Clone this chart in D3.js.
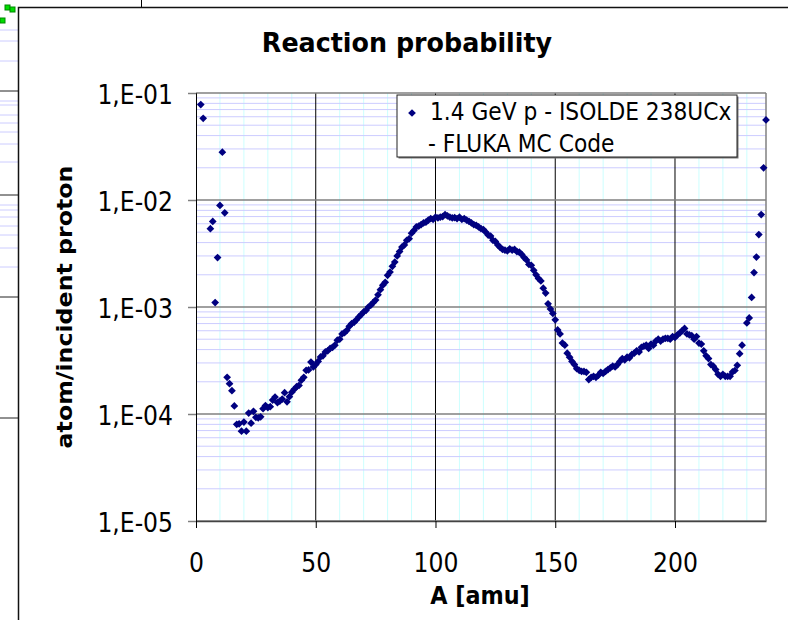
<!DOCTYPE html>
<html>
<head>
<meta charset="utf-8">
<script src="https://cdn.jsdelivr.net/npm/d3@7/dist/d3.min.js"></script>
<style>
  body { margin: 0; background: #ffffff; }
  text { font-family: "DejaVu Sans", sans-serif; fill: #000; }
</style>
</head>
<body>
<div id="wrapper"></div>
<script>
// mass number A of each point
const massNumbers = [
  2, 3, 6, 7, 8, 9, 10, 11, 12, 13, 14, 15, 16, 17, 18, 19, 20, 21, 22, 23,
  24, 25, 26, 27, 28, 29, 30, 31, 32, 33, 34, 35, 36, 37, 38, 39, 40, 41, 42, 43,
  44, 45, 46, 47, 48, 49, 50, 51, 52, 53, 54, 55, 56, 57, 58, 59, 60, 61, 62, 63,
  64, 65, 66, 67, 68, 69, 70, 71, 72, 73, 74, 75, 76, 77, 78, 79, 80, 81, 82, 83,
  84, 85, 86, 87, 88, 89, 90, 91, 92, 93, 94, 95, 96, 97, 98, 99, 100, 101, 102, 103,
  104, 105, 106, 107, 108, 109, 110, 111, 112, 113, 114, 115, 116, 117, 118, 119, 120, 121, 122, 123,
  124, 125, 126, 127, 128, 129, 130, 131, 132, 133, 134, 135, 136, 137, 138, 139, 140, 141, 142, 143,
  144, 145, 146, 147, 148, 149, 150, 151, 152, 153, 154, 155, 156, 157, 158, 159, 160, 161, 162, 163,
  164, 165, 166, 167, 168, 169, 170, 171, 172, 173, 174, 175, 176, 177, 178, 179, 180, 181, 182, 183,
  184, 185, 186, 187, 188, 189, 190, 191, 192, 193, 194, 195, 196, 197, 198, 199, 200, 201, 202, 203,
  204, 205, 206, 207, 208, 209, 210, 211, 212, 213, 214, 215, 216, 217, 218, 219, 220, 221, 222, 223,
  224, 225, 226, 227, 228, 230, 231, 232, 233, 234, 235, 236, 237, 238
]

// atoms per incident proton
const probabilities = [
  0.078, 0.058, 0.0054, 0.0063, 0.0011, 0.0029, 0.0089, 0.028, 0.0076, 2.2e-4,
  1.92e-4, 1.65e-4, 1.19e-4, 8.0e-5, 8.1e-5, 6.9e-5, 8.4e-5, 6.9e-5, 1.02e-4, 8.2e-5,
  1.06e-4, 9.3e-5, 9.2e-5, 9.4e-5, 1.12e-4, 1.2e-4, 1.15e-4, 1.17e-4, 1.35e-4, 1.44e-4,
  1.28e-4, 1.32e-4, 1.38e-4, 1.58e-4, 1.3e-4, 1.45e-4, 1.6e-4, 1.7e-4, 1.8e-4, 1.85e-4,
  2.07e-4, 2.2e-4, 2.56e-4, 2.58e-4, 3.06e-4, 2.75e-4, 2.9e-4, 3.1e-4, 3.41e-4, 3.5e-4,
  3.8e-4, 3.9e-4, 4.1e-4, 4.2e-4, 4.4e-4, 4.9e-4, 5.0e-4, 5.6e-4, 5.75e-4, 6.05e-4,
  6.6e-4, 7.0e-4, 7.2e-4, 7.6e-4, 8.07e-4, 8.5e-4, 9.0e-4, 9.3e-4, 1.0e-3, 1.04e-3,
  1.1e-3, 1.16e-3, 1.3e-3, 1.45e-3, 1.6e-3, 1.7e-3, 1.98e-3, 2.12e-3, 2.4e-3, 2.63e-3,
  3.0e-3, 3.3e-3, 3.63e-3, 3.8e-3, 4.2e-3, 4.35e-3, 4.9e-3, 5.2e-3, 5.6e-3, 5.7e-3,
  5.9e-3, 6.1e-3, 6.2e-3, 6.5e-3, 6.7e-3, 6.6e-3, 6.9e-3, 6.8e-3, 6.9e-3, 7.0e-3,
  7.3e-3, 7.1e-3, 6.9e-3, 6.8e-3, 6.85e-3, 6.7e-3, 6.9e-3, 6.6e-3, 6.7e-3, 6.5e-3,
  6.3e-3, 6.1e-3, 5.9e-3, 5.8e-3, 5.6e-3, 5.4e-3, 5.3e-3, 5.0e-3, 4.7e-3, 4.6e-3,
  4.2e-3, 4.1e-3, 3.8e-3, 3.6e-3, 3.45e-3, 3.4e-3, 3.35e-3, 3.5e-3, 3.4e-3, 3.45e-3,
  3.3e-3, 3.25e-3, 3.1e-3, 2.9e-3, 2.75e-3, 2.5e-3, 2.45e-3, 2.2e-3, 2.0e-3, 1.85e-3,
  1.75e-3, 1.5e-3, 1.35e-3, 1.07e-3, 9.6e-4, 8.7e-4, 7.6e-4, 6.1e-4, 5.6e-4, 4.6e-4,
  4.4e-4, 3.7e-4, 3.4e-4, 3.1e-4, 2.9e-4, 2.65e-4, 2.56e-4, 2.5e-4, 2.5e-4, 2.45e-4,
  2.1e-4, 2.2e-4, 2.25e-4, 2.2e-4, 2.3e-4, 2.45e-4, 2.4e-4, 2.5e-4, 2.6e-4, 2.7e-4,
  2.8e-4, 2.75e-4, 2.9e-4, 3.1e-4, 3.3e-4, 3.2e-4, 3.4e-4, 3.35e-4, 3.6e-4, 3.7e-4,
  3.9e-4, 3.8e-4, 4.2e-4, 4.3e-4, 4.4e-4, 4.1e-4, 4.5e-4, 4.4e-4, 4.8e-4, 5.0e-4,
  4.8e-4, 5.0e-4, 5.1e-4, 5.1e-4, 5.0e-4, 5.3e-4, 5.2e-4, 5.5e-4, 5.7e-4, 6.0e-4,
  6.3e-4, 5.6e-4, 5.5e-4, 5.4e-4, 5.0e-4, 5.3e-4, 4.6e-4, 4.5e-4, 3.9e-4, 3.5e-4,
  3.3e-4, 2.9e-4, 2.8e-4, 2.6e-4, 2.35e-4, 2.25e-4, 2.35e-4, 2.25e-4, 2.25e-4, 2.25e-4,
  2.47e-4, 2.55e-4, 2.85e-4, 3.66e-4, 4.4e-4, 7.1e-4, 7.9e-4, 1.23e-3, 2.1e-3, 2.93e-3,
  4.75e-3, 7.3e-3, 0.020, 0.056
]

const xTickValues = [0, 50, 100, 150, 200]
const yTickValues = [1e-5, 1e-4, 1e-3, 1e-2, 1e-1]
const chartTitle = "Reaction probability"
const xAxisTitle = "A [amu]"
const yAxisTitle = "atom/incident proton"
const legendLines = ["1.4 GeV p - ISOLDE 238UCx", "- FLUKA MC Code"]

function drawChart() {
  const dataset = massNumbers.map((a, i) => ({ a: a, p: probabilities[i] }))
  const xAccessor = d => d.a
  const yAccessor = d => d.p

  const squash = 0.87 // text in the picture is a bit narrow

  let dims = {
    width: 788,
    height: 620,
    margin: { top: 93, right: 22, bottom: 99, left: 196 },
  }
  dims.boundWidth = dims.width - dims.margin.left - dims.margin.right
  dims.boundHeight = dims.height - dims.margin.top - dims.margin.bottom

  const wrapper = d3.select("#wrapper")
    .append("svg")
      .attr("width", dims.width)
      .attr("height", dims.height)

  // bits of the page around the chart object
  const page = wrapper.append("g")
  const leftMinor = [30, 41, 61, 101, 105, 115, 123, 132, 144, 162, 205, 210, 217, 226, 235, 248, 267]
  page.selectAll("line.pageMinor").data(leftMinor).join("line")
    .attr("x1", 0).attr("x2", 18).attr("y1", d => d).attr("y2", d => d)
    .attr("stroke", "#ccccff").attr("stroke-width", 1)
  page.selectAll("line.pageMajor").data([91, 195, 297, 418]).join("line")
    .attr("x1", 0).attr("x2", 18).attr("y1", d => d).attr("y2", d => d)
    .attr("stroke", "#222").attr("stroke-width", 1)
  page.selectAll("rect.green").data([[5, 5], [10, 7], [0, 18]]).join("rect")
    .attr("x", d => d[0]).attr("y", d => d[1]).attr("width", 5).attr("height", 5)
    .attr("fill", "#00dd00").attr("stroke", "#008800").attr("stroke-width", 1)
  page.append("line").attr("x1", 141.5).attr("x2", 141.5).attr("y1", 0).attr("y2", 7)
    .attr("stroke", "#000")
  page.append("path")
    .attr("d", "M18.5,620 V7.5 H788")
    .attr("fill", "none").attr("stroke", "#111").attr("stroke-width", 1.5)

  const bound = wrapper.append("g")
    .attr("transform", `translate(${dims.margin.left},${dims.margin.top})`)

  const xScale = d3.scaleLinear()
    .domain([0, 238])
    .range([0, dims.boundWidth])

  const yScale = d3.scaleLog()
    .domain([yTickValues[0], yTickValues[yTickValues.length - 1]])
    .range([dims.boundHeight, 0])

  // minor grid
  const yMinor = []
  yTickValues.slice(0, -1).forEach(d => { for (let k = 2; k < 10; k++) yMinor.push(k * d) })
  const xMinor = d3.range(10, 238, 10).filter(d => d % 50 !== 0)

  bound.append("g").selectAll("line").data(xMinor).join("line")
    .attr("x1", d => xScale(d)).attr("x2", d => xScale(d))
    .attr("y1", 0).attr("y2", dims.boundHeight)
    .attr("stroke", "#ccffff").attr("stroke-width", 1)

  bound.append("g").selectAll("line").data(yMinor).join("line")
    .attr("x1", 0).attr("x2", dims.boundWidth)
    .attr("y1", d => yScale(d)).attr("y2", d => yScale(d))
    .attr("stroke", "#ccccff").attr("stroke-width", 1)

  // major grid
  bound.append("g").selectAll("line").data(xTickValues.slice(1)).join("line")
    .attr("x1", d => xScale(d)).attr("x2", d => xScale(d))
    .attr("y1", 0).attr("y2", dims.boundHeight)
    .attr("stroke", "#000").attr("stroke-width", 1)

  bound.append("g").selectAll("line").data(yTickValues).join("line")
    .attr("x1", 0).attr("x2", dims.boundWidth)
    .attr("y1", d => yScale(d)).attr("y2", d => yScale(d))
    .attr("stroke", "#808080").attr("stroke-width", 1.5)

  // plot border on the right
  bound.append("line")
    .attr("x1", dims.boundWidth).attr("x2", dims.boundWidth)
    .attr("y1", 0).attr("y2", dims.boundHeight)
    .attr("stroke", "#808080").attr("stroke-width", 1.5)

  // axes
  const yAxisGenerator = d3.axisLeft(yScale)
    .tickValues(yTickValues)
    .tickSize(8)
    .tickFormat(d => "1,E-" + String(-Math.round(Math.log10(d))).padStart(2, "0"))

  const yAxis = bound.append("g").call(yAxisGenerator)
  yAxis.select(".domain").attr("stroke", "#000")
  yAxis.selectAll(".tick line").attr("stroke", "#808080").attr("stroke-width", 1.5)
  yAxis.selectAll(".tick text")
    .attr("x", null).attr("dy", null)
    .attr("transform", `translate(-23,10) scale(${squash},1)`)
    .attr("text-anchor", "end")
    .style("font-size", "27px")
    .style("font-family", "DejaVu Sans")

  const xAxisGenerator = d3.axisBottom(xScale)
    .tickValues(xTickValues)
    .tickSize(7)
    .tickSizeOuter(0)

  const xAxis = bound.append("g").call(xAxisGenerator)
    .attr("transform", `translate(0,${dims.boundHeight})`)
  xAxis.select(".domain").attr("stroke", "#444").attr("stroke-width", 1.5)
  xAxis.selectAll(".tick line").attr("stroke", "#000")
  xAxis.selectAll(".tick text")
    .attr("y", null).attr("dy", null)
    .attr("transform", `translate(0,51) scale(${squash},1)`)
    .attr("text-anchor", "middle")
    .style("font-size", "27px")
    .style("font-family", "DejaVu Sans")

  // points
  const diamond = d3.symbol(d3.symbolSquare, 30)
  bound.append("g").selectAll("path").data(dataset).join("path")
    .attr("d", diamond)
    .attr("transform", d => `translate(${xScale(xAccessor(d))},${yScale(yAccessor(d))}) rotate(45)`)
    .attr("fill", "#000080")

  // legend
  const legend = bound.append("g").attr("transform", "translate(201,2)")
  legend.append("rect")
    .attr("x", 1.5).attr("y", 1.5).attr("width", 340).attr("height", 62)
    .attr("fill", "#777")
  legend.append("rect")
    .attr("x", 0).attr("y", 0).attr("width", 340).attr("height", 62)
    .attr("fill", "#fff").attr("stroke", "#222").attr("stroke-width", 1)
  legend.append("path")
    .attr("d", diamond)
    .attr("transform", "translate(15,18) rotate(45)")
    .attr("fill", "#000080")
  legend.selectAll("text").data(legendLines).join("text")
    .attr("transform", (d, i) => `translate(${i === 0 ? 33 : 31},${25 + i * 32}) scale(${squash},1)`)
    .style("font-size", "25px")
    .text(d => d)

  // titles
  wrapper.append("text")
    .attr("transform", "translate(407,52) scale(0.94,1)")
    .attr("text-anchor", "middle")
    .style("font-size", "27px")
    .style("font-weight", "bold")
    .text(chartTitle)

  wrapper.append("text")
    .attr("transform", `translate(${dims.margin.left + dims.boundWidth / 2 - 1},604) scale(0.93,1)`)
    .attr("text-anchor", "middle")
    .style("font-size", "24px")
    .style("font-weight", "bold")
    .text(xAxisTitle)

  wrapper.append("text")
    .attr("transform", `translate(72,${dims.margin.top + dims.boundHeight / 2}) rotate(-90) scale(1.03,0.92)`)
    .attr("text-anchor", "middle")
    .style("font-size", "23px")
    .style("font-weight", "bold")
    .text(yAxisTitle)
}

drawChart()
</script>
</body>
</html>
